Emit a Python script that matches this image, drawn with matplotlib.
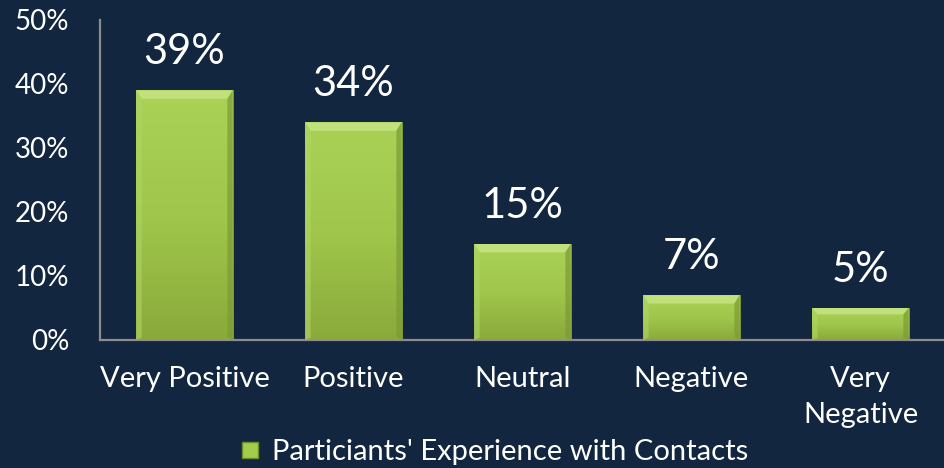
import matplotlib
matplotlib.use("Agg")
import matplotlib.pyplot as plt
import numpy as np
from matplotlib.patches import Polygon
from matplotlib.lines import Line2D
from matplotlib.colors import LinearSegmentedColormap

categories = ["Very Positive", "Positive", "Neutral", "Negative", "Very\nNegative"]
values = [39, 34, 15, 7, 5]
yticks = [0, 10, 20, 30, 40, 50]
ytick_labels = ["0%", "10%", "20%", "30%", "40%", "50%"]
legend_label = "Particiants' Experience with Contacts"

BG = "#12263F"
FONT = ["Lato", "DejaVu Sans"]
plt.rcParams["font.family"] = FONT

fig = plt.figure(figsize=(9.45, 4.68), dpi=100, facecolor=BG)
ax = fig.add_axes([100/945, 128/468, 845/945, 320/468])
ax.set_facecolor(BG)

x = np.arange(len(categories))
width = 0.57
bars = ax.bar(x, values, width=width, color="#9CC447", edgecolor="#7E9E35", linewidth=0.6, zorder=2)

cmap = LinearSegmentedColormap.from_list("g", ["#AAD256", "#A0C74B", "#8AA93B"])
grad = np.linspace(0, 1, 256).reshape(-1, 1)
for b in bars:
    x0, w, h = b.get_x(), b.get_width(), b.get_height()
    im = ax.imshow(grad, extent=[x0, x0 + w, 0, h], aspect="auto", cmap=cmap, zorder=3, origin="upper")
    im.set_clip_path(b)
    bev = 0.055 * w
    bh = min(1.3, h * 0.2)
    ax.add_patch(Polygon([(x0, h), (x0 + w, h), (x0 + w - bev, h - bh), (x0 + bev, h - bh)],
                         closed=True, facecolor="#C4E381", edgecolor="none", zorder=4, alpha=0.9))
    ax.add_patch(Polygon([(x0, 0), (x0, h), (x0 + bev, h - bh), (x0 + bev, bh * 0.3)],
                         closed=True, facecolor="#B0D665", edgecolor="none", zorder=4, alpha=0.6))
    ax.add_patch(Polygon([(x0 + w, 0), (x0 + w, h), (x0 + w - bev, h - bh), (x0 + w - bev, bh * 0.3)],
                         closed=True, facecolor="#7C9A33", edgecolor="none", zorder=4, alpha=0.7))
    ax.annotate(f"{int(h)}%", (b.get_x() + w / 2, h), xytext=(0, 14), textcoords="offset points",
                ha="center", va="bottom", color="white", fontsize=30)

ax.set_xlim(-0.5, len(categories) - 0.5)
ax.set_ylim(0, 50)
ax.set_yticks(yticks)
ax.set_yticklabels(ytick_labels)
ax.set_xticks(x)
ax.set_xticklabels(categories, linespacing=1.45)
ax.tick_params(axis="y", length=0, pad=22, labelcolor="white", labelsize=20)
ax.tick_params(axis="x", length=0, pad=19, labelcolor="white", labelsize=21)
for s in ["top", "right"]:
    ax.spines[s].set_visible(False)
for s in ["left", "bottom"]:
    ax.spines[s].set_color("#8C8C8C")
    ax.spines[s].set_linewidth(1.6)

handle = Line2D([], [], marker="s", linestyle="none", markersize=11, markerfacecolor="#A3CB4E",
                markeredgecolor="#6E8C2C")
fig.legend([handle], [legend_label], loc="center", bbox_to_anchor=(0.523, 0.034), frameon=False,
           fontsize=21, labelcolor="white", handlelength=0.7, handletextpad=0.4, borderaxespad=0,
           borderpad=0)

fig.savefig("out.png", dpi=100, facecolor=BG)
